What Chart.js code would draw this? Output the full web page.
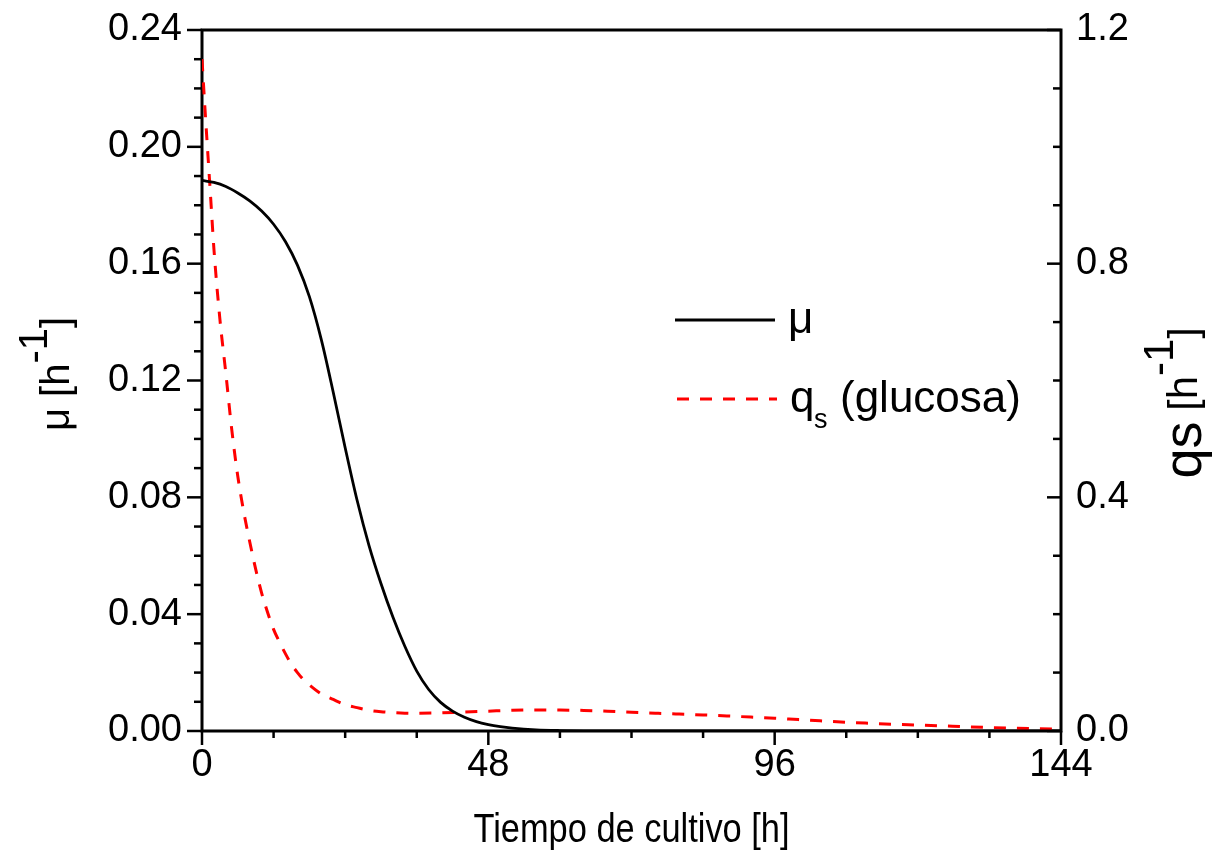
<!DOCTYPE html>
<html>
<head>
<meta charset="utf-8">
<script src="https://cdn.jsdelivr.net/npm/chart.js@4"></script>
<style>
  html, body { margin: 0; padding: 0; background: #fff; }
  canvas { display: block; }
</style>
</head>
<body>
<canvas id="c" width="1215" height="854"></canvas>
<script>
// Specific growth rate μ [h^-1] vs. culture time [h]
const muTime   = [0,2,4,6,8,10,12,14,16,18,20,22,24,26,28,30,32,34,36,38,40,42,44,46,48,50,52,56,60,64,72,84,96,108,120,132,144];
const muValues = [0.1885,0.1878,0.1864,0.1842,0.1815,0.1780,0.1735,0.1675,0.1595,0.1487,0.1340,0.1160,0.0970,0.0790,0.0635,0.0505,0.0390,0.0290,0.0205,0.0142,0.0098,0.0068,0.0047,0.0032,0.0022,0.0015,0.0010,0.0004,0.00015,0.00005,0,0,0,0,0,0,0];

// Specific glucose uptake rate qs [h^-1] vs. culture time [h]
const qsTime   = [0,0.5,1,1.5,2,3,4,5,6,7,8,9,10,11,12,13,14,15,16,17,18,20,22,24,26,28,30,32,34,36,40,44,48,52,56,60,64,68,72,76,80,84,88,92,96,100,104,108,112,116,120,124,128,132,136,140,144];
const qsValues = [1.15,1.065,0.985,0.905,0.825,0.705,0.612,0.515,0.436,0.375,0.324,0.277,0.236,0.203,0.174,0.152,0.132,0.114,0.100,0.088,0.079,0.0635,0.054,0.045,0.040,0.0355,0.033,0.0315,0.0305,0.0303,0.031,0.0325,0.034,0.0355,0.036,0.0358,0.0352,0.0338,0.032,0.0305,0.029,0.0275,0.0258,0.0238,0.022,0.0195,0.0172,0.015,0.0132,0.0115,0.0102,0.0088,0.0073,0.006,0.0049,0.004,0.0032];

// Axis tick values and labels
const xTicks   = [0, 48, 96, 144];
const muTicks  = [0, 0.04, 0.08, 0.12, 0.16, 0.20, 0.24];
const qsTicks  = [0, 0.4, 0.8, 1.2];
const muTickLabels = ['0.00','0.04','0.08','0.12','0.16','0.20','0.24'];
const qsTickLabels = ['0.0','0.4','0.8','1.2'];

const FONT = "'Liberation Sans', Arial, Helvetica, sans-serif";

function pairs(xs, ys) { return xs.map((x, i) => ({ x: x, y: ys[i] })); }

// Draws a run of text pieces (with optional vertical shift and size) centred at origin
function drawPieces(ctx, pieces, squeeze) {
  const widths = pieces.map(p => { ctx.font = p.size + 'px ' + FONT; return ctx.measureText(p.text).width; });
  const total = widths.reduce((a, b) => a + b, 0);
  let x = -total / 2;
  ctx.save();
  ctx.scale(squeeze || 1, 1);
  pieces.forEach((p, i) => {
    ctx.font = p.size + 'px ' + FONT;
    ctx.fillText(p.text, x, p.dy || 0);
    x += widths[i];
  });
  ctx.restore();
}

// Tick marks and plot frame, drawn beneath the curves
const axesFrame = {
  id: 'axesFrame',
  beforeDatasetsDraw(chart) {
    const { ctx, chartArea: a, scales } = chart;
    ctx.save();
    ctx.strokeStyle = '#000';
    ctx.lineWidth = 2.5;
    const seg = (x1, y1, x2, y2) => { ctx.beginPath(); ctx.moveTo(x1, y1); ctx.lineTo(x2, y2); ctx.stroke(); };

    // bottom axis: outward ticks every 12 h, long ones every 48 h
    for (let i = 0; i <= 12; i++) {
      const px = scales.x.getPixelForValue(i * 12);
      seg(px, a.bottom, px, a.bottom + (i % 4 === 0 ? 14 : 7));
    }
    // left axis: outward ticks every 0.01, long ones every 0.04
    for (let i = 0; i <= 24; i++) {
      const py = scales.y.getPixelForValue(i * 0.01);
      seg(a.left - (i % 4 === 0 ? 15 : 8), py, a.left, py);
    }
    // right axis: inward ticks every 0.1, long ones every 0.4
    for (let i = 0; i <= 12; i++) {
      const py = scales.y1.getPixelForValue(i * 0.1);
      seg(a.right - (i % 4 === 0 ? 14 : 8), py, a.right, py);
    }
    ctx.lineWidth = 3;
    ctx.strokeRect(a.left, a.top, a.right - a.left, a.bottom - a.top);
    ctx.restore();
  }
};

// Axis titles and legend
const labelsAndLegend = {
  id: 'labelsAndLegend',
  afterDraw(chart) {
    const { ctx, chartArea: a } = chart;
    ctx.save();
    ctx.fillStyle = '#000';
    ctx.textBaseline = 'alphabetic';
    ctx.textAlign = 'left';

    // x axis title
    ctx.save();
    ctx.translate((a.left + a.right) / 2, 842);
    drawPieces(ctx, [{ text: 'Tiempo de cultivo [h]', size: 40 }], 0.86);
    ctx.restore();

    // left axis title
    ctx.save();
    ctx.translate(69, 374);
    ctx.rotate(-Math.PI / 2);
    drawPieces(ctx, [
      { text: 'μ', size: 40 },
      { text: ' [', size: 40 },
      { text: 'h', size: 40 },
      { text: '-1', size: 40, dy: -22 },
      { text: ']', size: 40 }
    ]);
    ctx.restore();

    // right axis title
    ctx.save();
    ctx.translate(1201, 403);
    ctx.rotate(-Math.PI / 2);
    drawPieces(ctx, [
      { text: 'qs', size: 54 },
      { text: ' [', size: 40, dy: -4 },
      { text: 'h', size: 42, dy: -4 },
      { text: '-1', size: 42, dy: -28 },
      { text: ']', size: 40, dy: -4 }
    ]);
    ctx.restore();

    // legend
    const seg = (x1, y1, x2, y2) => { ctx.beginPath(); ctx.moveTo(x1, y1); ctx.lineTo(x2, y2); ctx.stroke(); };
    const ds = chart.data.datasets;
    const rows = [
      { d: ds[0], y: 320, x1: 675, x2: 775 },
      { d: ds[1], y: 399, x1: 677, x2: 777 }
    ];
    rows.forEach(r => {
      ctx.save();
      ctx.strokeStyle = r.d.borderColor;
      ctx.lineWidth = r.d.borderWidth;
      ctx.setLineDash(r.d.borderDash || []);
      seg(r.x1, r.y, r.x2, r.y);
      ctx.restore();
    });
    ctx.font = '44px ' + FONT;
    ctx.fillText('μ', 788, 333);
    ctx.fillText('q', 790, 412);
    ctx.font = '27px ' + FONT;
    ctx.fillText('s', 814, 428);
    ctx.font = '44px ' + FONT;
    ctx.fillText('(glucosa)', 840, 412);

    ctx.restore();
  }
};

// Keep the plot box fixed: no extra room reserved for half-height edge labels
const noEdgePadding = s => { s.paddingTop = 0; s.paddingBottom = 0; };

new Chart(document.getElementById('c'), {
  type: 'line',
  data: {
    datasets: [
      {
        label: 'μ',
        data: pairs(muTime, muValues),
        yAxisID: 'y',
        borderColor: '#000000',
        borderWidth: 2.8,
        pointRadius: 0,
        cubicInterpolationMode: 'monotone',
        fill: false
      },
      {
        label: 'qs (glucosa)',
        data: pairs(qsTime, qsValues),
        yAxisID: 'y1',
        borderColor: '#ff0000',
        borderWidth: 3,
        borderDash: [12, 11],
        pointRadius: 0,
        cubicInterpolationMode: 'monotone',
        fill: false
      }
    ]
  },
  options: {
    responsive: false,
    animation: false,
    devicePixelRatio: 1,
    layout: { padding: { top: 30, left: 0, right: 0, bottom: 0 } },
    plugins: { legend: { display: false }, tooltip: { enabled: false } },
    scales: {
      x: {
        type: 'linear',
        min: 0, max: 144,
        afterBuildTicks: s => { s.ticks = xTicks.map(v => ({ value: v })); },
        afterFit: s => { s.height = 123; s.paddingLeft = 0; s.paddingRight = 0; },
        grid: { display: false, drawTicks: false },
        border: { display: false },
        ticks: { color: '#000', padding: 12, maxRotation: 0, font: { family: FONT, size: 38 } }
      },
      y: {
        type: 'linear',
        position: 'left',
        min: 0, max: 0.24,
        afterBuildTicks: s => { s.ticks = muTicks.map(v => ({ value: v })); },
        afterFit: s => { s.width = 202; noEdgePadding(s); },
        grid: { display: false, drawTicks: false },
        border: { display: false },
        ticks: {
          color: '#000', padding: 20, font: { family: FONT, size: 38 },
          callback: (v, i) => muTickLabels[i]
        }
      },
      y1: {
        type: 'linear',
        position: 'right',
        min: 0, max: 1.2,
        afterBuildTicks: s => { s.ticks = qsTicks.map(v => ({ value: v })); },
        afterFit: s => { s.width = 154; noEdgePadding(s); },
        grid: { display: false, drawTicks: false },
        border: { display: false },
        ticks: {
          color: '#000', padding: 15, font: { family: FONT, size: 38 },
          callback: (v, i) => qsTickLabels[i]
        }
      }
    }
  },
  plugins: [axesFrame, labelsAndLegend]
});
</script>
</body>
</html>
